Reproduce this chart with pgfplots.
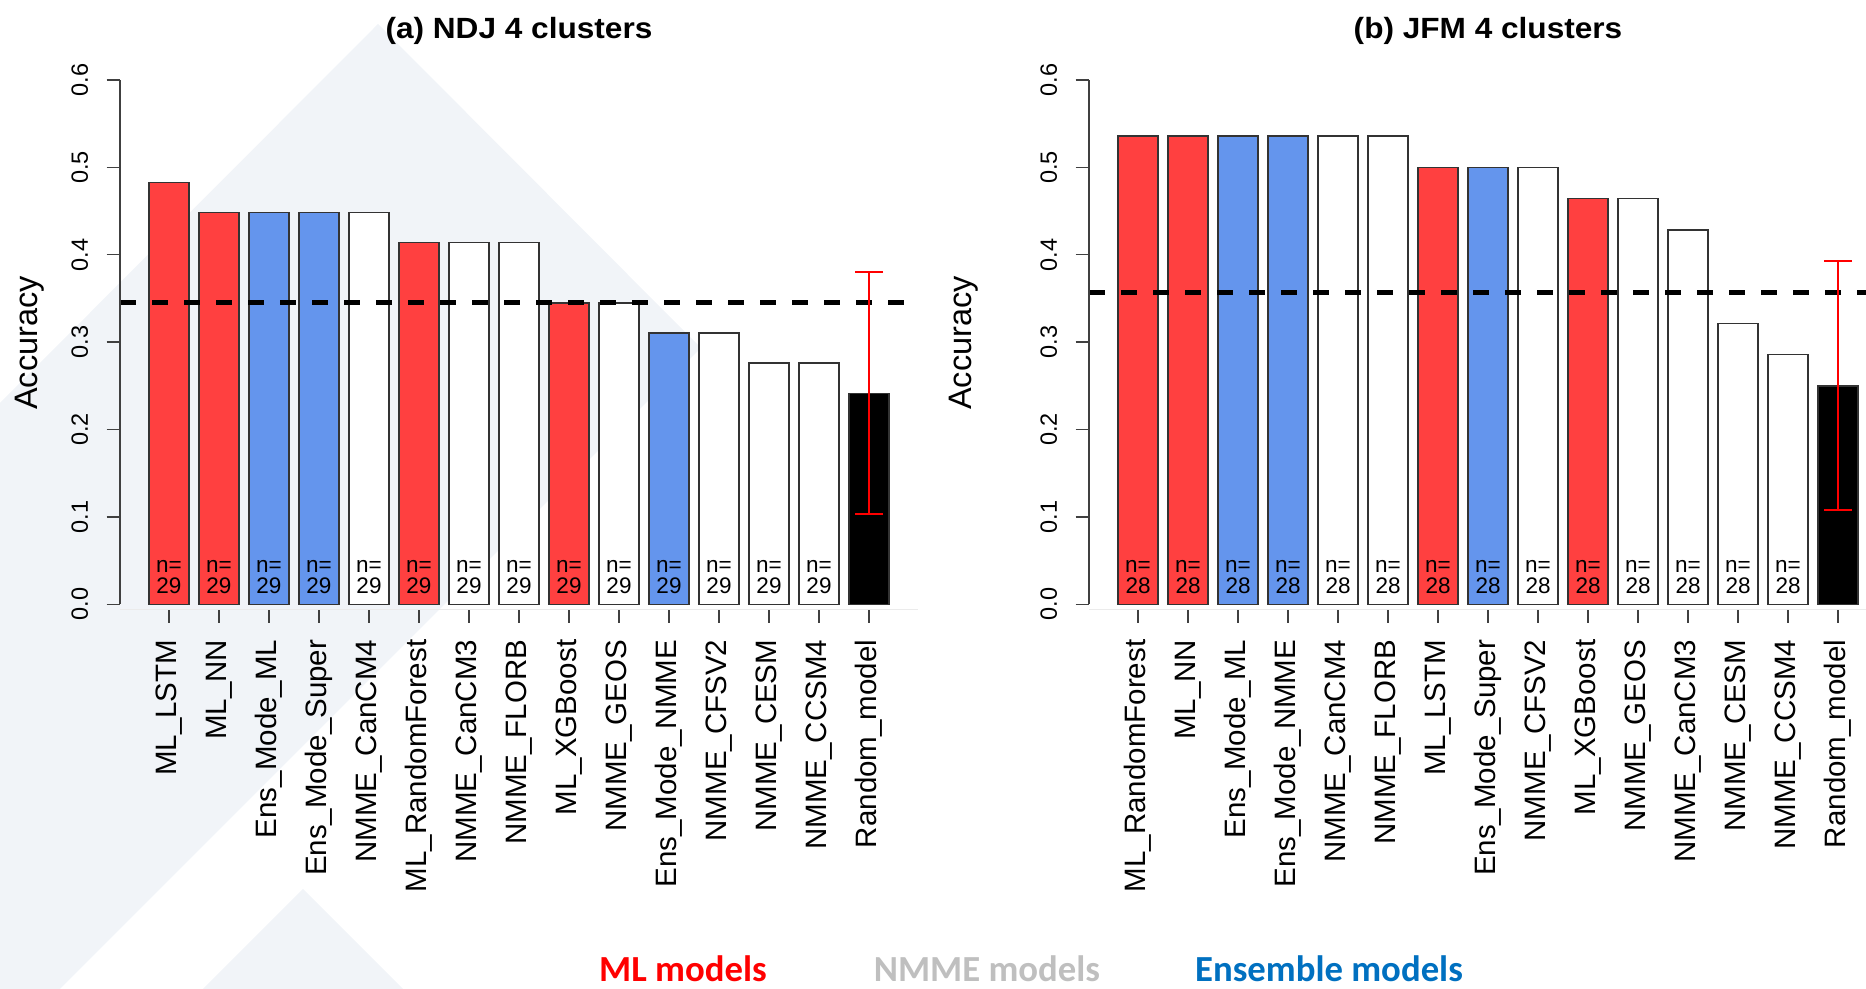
\documentclass[border=0pt]{standalone}
\usepackage{pgfplots}
\pgfplotsset{compat=1.18}
\usepackage{fontspec}
\setmainfont{Liberation Sans}
\newfontfamily\carlito{Carlito}
\definecolor{mlred}{HTML}{FF4040}
\definecolor{ensblue}{HTML}{6495ED}
\definecolor{bgc}{HTML}{F1F4F8}
\definecolor{legred}{HTML}{FF0000}
\definecolor{leggray}{HTML}{BFBFBF}
\definecolor{legblue}{HTML}{0070C0}
\pgfplotsset{
 barpanel/.style={
  scale only axis, width=319.2pt, height=211.8pt,
  xmin=-0.98, xmax=14.98, ymin=-0.006, ymax=0.6,
  clip=false,
  axis lines*=left,
  x axis line style={draw=black!8},
  y axis line style={draw=none},
  ybar, bar width=0.8, bar shift=0pt,
  xtick={0,1,2,3,4,5,6,7,8,9,10,11,12,13,14},
  ytick={0,0.1,0.2,0.3,0.4,0.5,0.6},
  yticklabels={0.0,0.1,0.2,0.3,0.4,0.5,0.6},
  tick align=outside, major tick length=5.4pt,
  tick style={black!75, line width=0.5pt},
  yticklabel shift=7.2pt,
  xticklabel shift=6.5pt,
  yticklabel style={rotate=90, anchor=south, inner sep=0pt, font=\fontsize{9.4}{11}\selectfont},
  xticklabel style={rotate=90, anchor=east, inner sep=0pt, font=\fontsize{11.8}{14}\selectfont},
  every axis plot/.append style={draw=black!80, line width=0.6pt},
 }
}
\begin{document}
\begin{tikzpicture}
\useasboundingbox (0,0) rectangle (746.4pt,395.6pt);
\clip (0,0) rectangle (746.4pt,395.6pt);
\fill[bgc] (0,234.4pt) -- (151.2pt,386pt) -- (280.4pt,256.4pt) -- (24pt,0) -- (0,0) -- cycle;
\fill[bgc] (81.2pt,0) -- (121.2pt,40pt) -- (161.2pt,0) -- cycle;

% (a) NDJ
\begin{axis}[barpanel, at={(48pt,151.8pt)}, anchor=south west,
 xticklabels={ML\_LSTM,ML\_NN,Ens\_Mode\_ML,Ens\_Mode\_Super,NMME\_CanCM4,ML\_RandomForest,NMME\_CanCM3,NMME\_FLORB,ML\_XGBoost,NMME\_GEOS,Ens\_Mode\_NMME,NMME\_CFSV2,NMME\_CESM,NMME\_CCSM4,Random\_model}]
\addplot[fill=mlred] coordinates {(0,0.4828) (1,0.4483) (5,0.4138) (8,0.3448)};
\addplot[fill=ensblue] coordinates {(2,0.4483) (3,0.4483) (10,0.3103)};
\addplot[fill=white] coordinates {(4,0.4483) (6,0.4138) (7,0.4138) (9,0.3448) (11,0.3103) (12,0.2759) (13,0.2759)};
\addplot[fill=black] coordinates {(14,0.2414)};
\addplot[sharp plot, draw=black, line width=2pt, dash pattern=on 6.4pt off 6.4pt] coordinates {(-0.98,0.3448) (14.98,0.3448)};
\addplot[sharp plot, draw=red, line width=0.6pt, mark=-, mark size=5.6pt, mark options={draw=red, line width=0.9pt, solid}] coordinates {(14,0.1030) (14,0.3800)};
\draw[black!75, line width=0.5pt] (axis cs:-0.98,0) -- (axis cs:-0.98,0.6);
\pgfplotsinvokeforeach{0,...,13}{\node[align=center, inner sep=0pt, font=\fontsize{9}{8.4}\selectfont] at (axis cs:#1,0.0315) {n=\\29};}
\end{axis}

% (b) JFM
\begin{axis}[barpanel, at={(435.6pt,151.8pt)}, anchor=south west,
 xticklabels={ML\_RandomForest,ML\_NN,Ens\_Mode\_ML,Ens\_Mode\_NMME,NMME\_CanCM4,NMME\_FLORB,ML\_LSTM,Ens\_Mode\_Super,NMME\_CFSV2,ML\_XGBoost,NMME\_GEOS,NMME\_CanCM3,NMME\_CESM,NMME\_CCSM4,Random\_model}]
\addplot[fill=mlred] coordinates {(0,0.5357) (1,0.5357) (6,0.5) (9,0.4643)};
\addplot[fill=ensblue] coordinates {(2,0.5357) (3,0.5357) (7,0.5)};
\addplot[fill=white] coordinates {(4,0.5357) (5,0.5357) (8,0.5) (10,0.4643) (11,0.4286) (12,0.3214) (13,0.2857)};
\addplot[fill=black] coordinates {(14,0.25)};
\addplot[sharp plot, draw=black, line width=2pt, dash pattern=on 6.4pt off 6.4pt] coordinates {(-0.98,0.3571) (14.98,0.3571)};
\addplot[sharp plot, draw=red, line width=0.6pt, mark=-, mark size=5.6pt, mark options={draw=red, line width=0.9pt, solid}] coordinates {(14,0.1075) (14,0.3930)};
\draw[black!75, line width=0.5pt] (axis cs:-0.98,0) -- (axis cs:-0.98,0.6);
\pgfplotsinvokeforeach{0,...,13}{\node[align=center, inner sep=0pt, font=\fontsize{9}{8.4}\selectfont] at (axis cs:#1,0.0315) {n=\\28};}
\end{axis}

\node[anchor=base, xscale=1.08, font=\fontsize{11.7}{14}\selectfont\bfseries] at (207.6pt,380pt) {(a) NDJ 4 clusters};
\node[anchor=base, xscale=1.08, font=\fontsize{11.7}{14}\selectfont\bfseries] at (595.2pt,380pt) {(b) JFM 4 clusters};
\node[rotate=90, font=\fontsize{13}{15}\selectfont] at (12pt,258.4pt) {Accuracy};
\node[rotate=90, font=\fontsize{13}{15}\selectfont] at (385.6pt,258.4pt) {Accuracy};
\node[anchor=base, text=legred, font=\carlito\bfseries\fontsize{14.7}{16}\selectfont] at (273.2pt,2.8pt) {ML models};
\node[anchor=base, text=leggray, font=\carlito\bfseries\fontsize{14.7}{16}\selectfont] at (394.8pt,2.8pt) {NMME models};
\node[anchor=base, text=legblue, font=\carlito\bfseries\fontsize{14.7}{16}\selectfont] at (531.6pt,2.8pt) {Ensemble models};
\end{tikzpicture}
\end{document}
